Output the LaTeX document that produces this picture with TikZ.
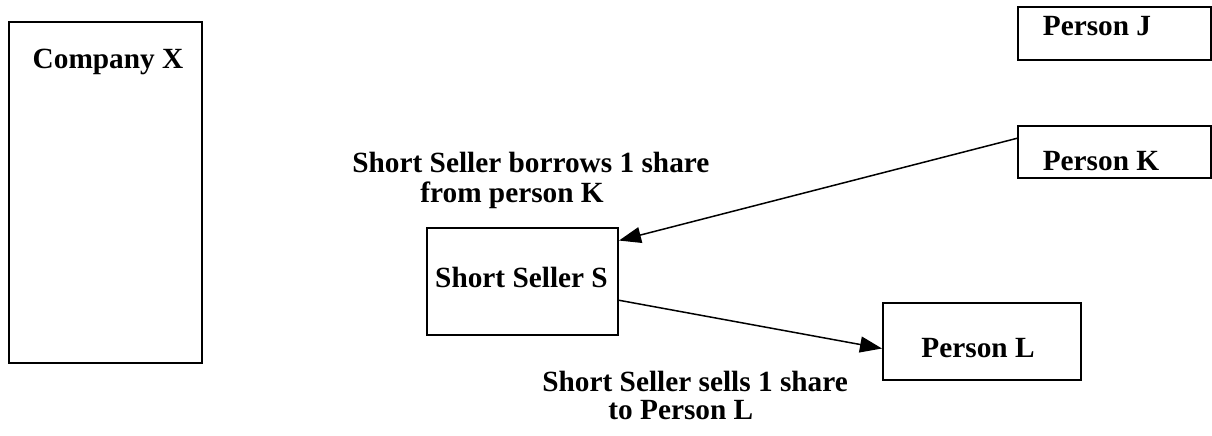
\documentclass[tikz,border=0pt]{standalone}
\usepackage{fontspec}
\setmainfont{Liberation Serif}
\usetikzlibrary{arrows.meta}
\tikzset{
  box/.style={draw,line width=1pt,inner sep=0pt},
  txt/.style={anchor=base,inner sep=0pt,font=\bfseries\fontsize{14.65}{15}\selectfont},
  lbl/.style={anchor=base west,inner sep=0pt,align=left},
  arr/.style={line width=0.75pt,-{Triangle[length=11pt,width=8pt]}}
}
\begin{document}
\begin{tikzpicture}[x=0.5pt,y=-0.5pt]
\pgfmathsetmacro{\kpx}{0.5}
\useasboundingbox (0,0) rectangle (1212,435);
% boxes
\foreach \nm/\kx/\ky/\kw/\kh in {CX/105.5/192.5/193/341,J/1114.5/33.5/193/53,K/1114.5/152/193/52,S/522.5/281.5/191/107,L/982/341.5/198/77}{
  \node[box,minimum width=\kw*\kpx pt,minimum height=\kh*\kpx pt](\nm) at (\kx,\ky){};}
% texts in boxes
\foreach \nm/\kx/\ky/\lb in {CXt/108/68/{Company X},Jt/1097/35/{Person J},Kt/1101/170/{Person K},St/521.5/287/{Short Seller S},Lt/978/357/{Person L}}{
  \node[txt](\nm) at (\kx,\ky){\lb};}
\draw[arr](K.172.9)--(S.23.5);
\draw[arr](S.-11)--(L.-176.2);
\node[lbl,font=\bfseries\fontsize{14.65}{15}\selectfont](lbB) at (352,202){Short Seller borrows 1 share\\\hspace*{34pt}from person K};
\node[lbl,font=\bfseries\fontsize{14.65}{14}\selectfont](lbS) at (542,419){Short Seller sells 1 share\\\hspace*{33pt}to Person L};
\end{tikzpicture}
\end{document}
